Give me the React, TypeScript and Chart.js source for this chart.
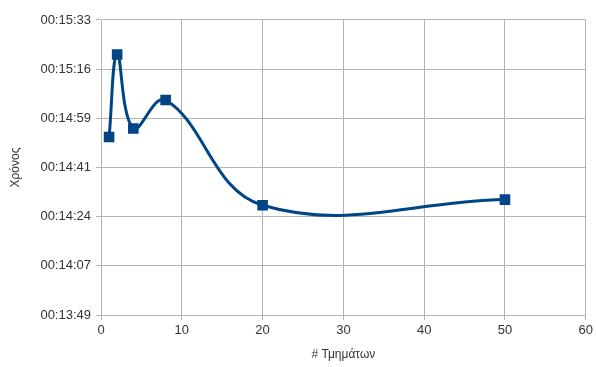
import React, { useEffect, useRef } from "react";
import { Chart, registerables } from "chart.js";

Chart.register(...registerables);

// Number of segments vs. elapsed time
const segments = [1, 2, 4, 8, 20, 50];
const times = ["00:14:52", "00:15:21", "00:14:55", "00:15:05", "00:14:28", "00:14:30"];

// Y axis range and tick step, in seconds
const yMin = 829.44;
const yMax = 933.12;
const yStep = 17.28;

const xTicks = [0, 10, 20, 30, 40, 50, 60];

const toSeconds = (t: string) => {
  const [h, m, s] = t.split(":").map(Number);
  return h * 3600 + m * 60 + s;
};

const pad = (n: number) => String(n).padStart(2, "0");
const formatTime = (sec: number) => {
  const r = Math.round(sec);
  const h = Math.floor(r / 3600);
  const m = Math.floor((r % 3600) / 60);
  const s = r % 60;
  return `${pad(h)}:${pad(m)}:${pad(s)}`;
};

const GRID = "#b3b3b3";
const TEXT = "#333333";
const LINE = "#004586";
const FONT = "'Liberation Sans', Arial, sans-serif";

export default function App() {
  const ref = useRef<HTMLCanvasElement>(null);

  useEffect(() => {
    document.body.style.margin = "0";
    const ctx = ref.current!;
    const chart = new Chart(ctx, {
      type: "line",
      data: {
        datasets: [
          {
            data: segments.map((x, i) => ({ x, y: toSeconds(times[i]) })),
            borderColor: LINE,
            backgroundColor: LINE,
            borderWidth: 3,
            tension: 0.4,
            pointStyle: "rect",
            pointRadius: 7.5,
            pointHoverRadius: 7.5,
            pointBorderWidth: 0,
            fill: false,
          },
        ],
      },
      options: {
        animation: false,
        responsive: false,
        maintainAspectRatio: false,
        layout: { padding: { top: 20, right: 9, left: 0, bottom: 0 } },
        plugins: { legend: { display: false }, tooltip: { enabled: false } },
        scales: {
          x: {
            type: "linear",
            min: 0,
            max: 60,
            afterBuildTicks: (s: any) => {
              s.ticks = xTicks.map((v) => ({ value: v }));
            },
            afterFit: (s: any) => {
              s.height = 52;
            },
            grid: { color: GRID, tickLength: 5, drawTicks: true },
            border: { color: GRID },
            ticks: { color: TEXT, font: { family: FONT, size: 13 }, padding: 3, maxRotation: 0 },
            title: {
              display: true,
              text: "# Τμημάτων",
              color: TEXT,
              font: { family: FONT, size: 12 },
              padding: { top: 0, bottom: 5 },
            },
          },
          y: {
            type: "linear",
            min: yMin,
            max: yMax,
            afterBuildTicks: (s: any) => {
              const t = [];
              for (let i = 0; i <= 6; i++) t.push({ value: yMin + i * yStep });
              s.ticks = t;
            },
            afterFit: (s: any) => {
              s.width = 101;
            },
            grid: { color: GRID, tickLength: 5, drawTicks: true },
            border: { color: GRID },
            ticks: {
              color: TEXT,
              font: { family: FONT, size: 13 },
              padding: 5,
              callback: (v: any) => formatTime(Number(v)),
            },
            title: {
              display: true,
              text: "Χρόνος",
              color: TEXT,
              font: { family: FONT, size: 12 },
              padding: { top: 8, bottom: 0 },
            },
          },
        },
      },
    });
    return () => chart.destroy();
  }, []);

  return <canvas ref={ref} width={596} height={367} style={{ display: "block" }} />;
}
